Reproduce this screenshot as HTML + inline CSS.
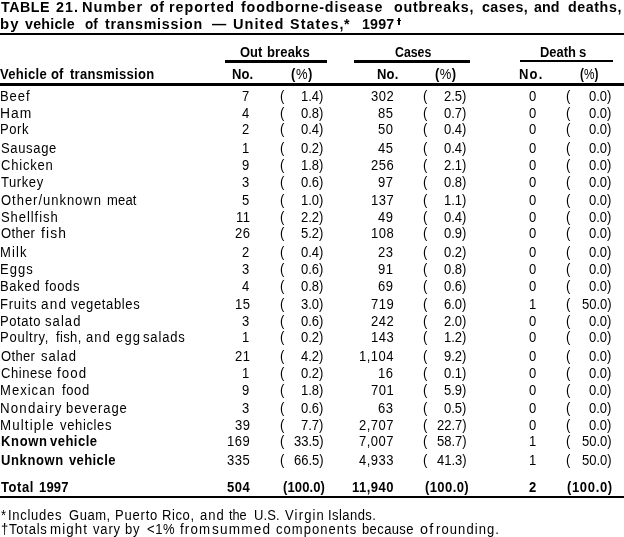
<!DOCTYPE html>
<html><head><meta charset="utf-8"><style>
html,body{margin:0;padding:0;background:#fff;}
body{width:624px;height:537px;position:relative;overflow:hidden;font-family:"Liberation Sans",sans-serif;}
.t{position:absolute;transform-origin:0 50%;white-space:pre;line-height:16px;color:#000;}
.r{position:absolute;background:#000;}
#w{position:absolute;left:0;top:0;width:624px;height:537px;will-change:transform;}
</style></head><body><div id="w">
<div class="t" style="left:1.30px;top:-0.87px;font-size:15.5px;letter-spacing:0.555px;transform:scaleX(0.9200);font-weight:bold;">TABLE</div>
<div class="t" style="left:56.30px;top:-0.87px;font-size:15.5px;letter-spacing:1.173px;transform:scaleX(0.9200);font-weight:bold;">21.</div>
<div class="t" style="left:82.36px;top:-0.87px;font-size:15.5px;letter-spacing:1.089px;transform:scaleX(0.9400);font-weight:bold;">Number</div>
<div class="t" style="left:149.70px;top:-0.87px;font-size:15.5px;letter-spacing:0.619px;transform:scaleX(0.9200);font-weight:bold;">of</div>
<div class="t" style="left:169.08px;top:-0.87px;font-size:15.5px;letter-spacing:1.120px;transform:scaleX(0.9200);font-weight:bold;">reported</div>
<div class="t" style="left:241.30px;top:-0.87px;font-size:15.5px;letter-spacing:0.936px;transform:scaleX(0.9200);font-weight:bold;">foodborne-disease</div>
<div class="t" style="left:394.20px;top:-0.87px;font-size:15.5px;letter-spacing:0.878px;transform:scaleX(0.9200);font-weight:bold;">outbreaks,</div>
<div class="t" style="left:481.80px;top:-0.87px;font-size:15.5px;letter-spacing:0.471px;transform:scaleX(0.9200);font-weight:bold;">cases,</div>
<div class="t" style="left:533.50px;top:-0.87px;font-size:15.5px;letter-spacing:0.043px;transform:scaleX(0.9200);font-weight:bold;">and</div>
<div class="t" style="left:567.70px;top:-0.87px;font-size:15.5px;letter-spacing:0.626px;transform:scaleX(0.9200);font-weight:bold;">deaths,</div>
<div class="t" style="left:-0.16px;top:16.13px;font-size:15.5px;letter-spacing:1.178px;transform:scaleX(0.9600);font-weight:bold;">by</div>
<div class="t" style="left:25.30px;top:16.13px;font-size:15.5px;letter-spacing:0.234px;transform:scaleX(0.9200);font-weight:bold;">vehicle</div>
<div class="t" style="left:85.00px;top:16.13px;font-size:15.5px;letter-spacing:0.000px;transform:scaleX(0.8728);font-weight:bold;">of</div>
<div class="t" style="left:105.30px;top:16.13px;font-size:15.5px;letter-spacing:0.828px;transform:scaleX(0.9200);font-weight:bold;">transmission</div>
<div class="t" style="left:211.70px;top:16.13px;font-size:15.5px;letter-spacing:0.000px;transform:scaleX(0.9200);font-weight:bold;">—</div>
<div class="t" style="left:233.00px;top:16.13px;font-size:15.5px;letter-spacing:1.088px;transform:scaleX(0.9400);font-weight:bold;">United</div>
<div class="t" style="left:290.00px;top:16.13px;font-size:15.5px;letter-spacing:1.235px;transform:scaleX(0.9200);font-weight:bold;">States,</div>
<div class="t" style="left:344.20px;top:16.13px;font-size:15.5px;letter-spacing:0.000px;transform:scaleX(0.9200);font-weight:bold;">*</div>
<div class="t" style="left:361.70px;top:16.13px;font-size:15.5px;letter-spacing:0.162px;transform:scaleX(0.9200);font-weight:bold;">1997</div>
<div class="r" style="left:398px;top:18px;width:2px;height:7px"></div>
<div class="r" style="left:397px;top:20px;width:4px;height:1px"></div>
<div class="t" style="left:0.00px;top:66.15px;font-size:14px;letter-spacing:0.345px;transform:scaleX(0.9300);font-weight:bold;">Vehicle</div>
<div class="t" style="left:51.30px;top:66.15px;font-size:14px;letter-spacing:0.104px;transform:scaleX(0.9300);font-weight:bold;">of</div>
<div class="t" style="left:69.70px;top:66.15px;font-size:14px;letter-spacing:0.301px;transform:scaleX(0.9300);font-weight:bold;">transmission</div>
<div class="t" style="left:239.80px;top:44.15px;font-size:14px;letter-spacing:0.000px;transform:scaleX(0.9206);font-weight:bold;">Out</div>
<div class="t" style="left:266.50px;top:44.15px;font-size:14px;letter-spacing:0.154px;transform:scaleX(0.9300);font-weight:bold;">breaks</div>
<div class="t" style="left:394.50px;top:44.15px;font-size:14px;letter-spacing:0.000px;transform:scaleX(0.8802);font-weight:bold;">Cases</div>
<div class="t" style="left:539.80px;top:44.15px;font-size:14px;letter-spacing:0.000px;transform:scaleX(0.9206);font-weight:bold;">Death</div>
<div class="t" style="left:578.50px;top:44.15px;font-size:14px;letter-spacing:0.000px;transform:scaleX(0.9300);font-weight:bold;">s</div>
<div class="t" style="left:232.00px;top:66.15px;font-size:14px;letter-spacing:0.083px;transform:scaleX(0.9300);font-weight:bold;">No.</div>
<div class="t" style="left:377.00px;top:66.15px;font-size:14px;letter-spacing:0.190px;transform:scaleX(0.9300);font-weight:bold;">No.</div>
<div class="t" style="left:518.75px;top:66.15px;font-size:14px;letter-spacing:1.239px;transform:scaleX(0.9300);font-weight:bold;">No.</div>
<div class="t" style="left:290.60px;top:66.15px;font-size:14px;letter-spacing:0.574px;transform:scaleX(0.9300);"><b>(</b>%<b>)</b></div>
<div class="t" style="left:435.00px;top:66.15px;font-size:14px;letter-spacing:0.466px;transform:scaleX(0.9300);"><b>(</b>%<b>)</b></div>
<div class="t" style="left:579.75px;top:66.15px;font-size:14px;letter-spacing:0.000px;transform:scaleX(0.8408);"><b>(</b>%<b>)</b></div>
<div class="r" style="left:0px;top:33px;width:624px;height:2px"></div>
<div class="r" style="left:0px;top:83px;width:624px;height:3px"></div>
<div class="r" style="left:0px;top:496px;width:624px;height:2px"></div>
<div class="r" style="left:225px;top:60px;width:102px;height:3px"></div>
<div class="r" style="left:354px;top:60px;width:116px;height:3px"></div>
<div class="r" style="left:520px;top:60px;width:93px;height:2px"></div>
<div class="t" style="left:-0.13px;top:88.15px;font-size:14px;letter-spacing:0.983px;transform:scaleX(0.9300);">Beef</div>
<div class="t" style="left:242.26px;top:88.15px;font-size:14px;letter-spacing:0.500px;transform:scaleX(0.9300);">7</div>
<div class="t" style="left:279.80px;top:88.15px;font-size:14px;letter-spacing:0.000px;transform:scaleX(0.9300);">(</div>
<div class="t" style="left:301.18px;top:88.15px;font-size:14px;letter-spacing:0.000px;transform:scaleX(0.9300);">1.4)</div>
<div class="t" style="left:370.65px;top:88.15px;font-size:14px;letter-spacing:0.500px;transform:scaleX(0.9300);">302</div>
<div class="t" style="left:423.00px;top:88.15px;font-size:14px;letter-spacing:0.000px;transform:scaleX(0.9300);">(</div>
<div class="t" style="left:444.18px;top:88.15px;font-size:14px;letter-spacing:0.000px;transform:scaleX(0.9300);">2.5)</div>
<div class="t" style="left:528.56px;top:88.15px;font-size:14px;letter-spacing:0.500px;transform:scaleX(0.9300);">0</div>
<div class="t" style="left:566.30px;top:88.15px;font-size:14px;letter-spacing:0.000px;transform:scaleX(0.9300);">(</div>
<div class="t" style="left:589.48px;top:88.15px;font-size:14px;letter-spacing:0.000px;transform:scaleX(0.9300);">0.0)</div>
<div class="t" style="left:-0.19px;top:105.15px;font-size:14px;letter-spacing:1.052px;transform:scaleX(0.9900);">Ham</div>
<div class="t" style="left:242.26px;top:105.15px;font-size:14px;letter-spacing:0.500px;transform:scaleX(0.9300);">4</div>
<div class="t" style="left:279.80px;top:105.15px;font-size:14px;letter-spacing:0.000px;transform:scaleX(0.9300);">(</div>
<div class="t" style="left:301.18px;top:105.15px;font-size:14px;letter-spacing:0.000px;transform:scaleX(0.9300);">0.8)</div>
<div class="t" style="left:378.35px;top:105.15px;font-size:14px;letter-spacing:0.500px;transform:scaleX(0.9300);">85</div>
<div class="t" style="left:423.00px;top:105.15px;font-size:14px;letter-spacing:0.000px;transform:scaleX(0.9300);">(</div>
<div class="t" style="left:444.18px;top:105.15px;font-size:14px;letter-spacing:0.000px;transform:scaleX(0.9300);">0.7)</div>
<div class="t" style="left:528.56px;top:105.15px;font-size:14px;letter-spacing:0.500px;transform:scaleX(0.9300);">0</div>
<div class="t" style="left:566.30px;top:105.15px;font-size:14px;letter-spacing:0.000px;transform:scaleX(0.9300);">(</div>
<div class="t" style="left:589.48px;top:105.15px;font-size:14px;letter-spacing:0.000px;transform:scaleX(0.9300);">0.0)</div>
<div class="t" style="left:-0.13px;top:121.15px;font-size:14px;letter-spacing:0.620px;transform:scaleX(0.9300);">Pork</div>
<div class="t" style="left:242.26px;top:121.15px;font-size:14px;letter-spacing:0.500px;transform:scaleX(0.9300);">2</div>
<div class="t" style="left:279.80px;top:121.15px;font-size:14px;letter-spacing:0.000px;transform:scaleX(0.9300);">(</div>
<div class="t" style="left:301.18px;top:121.15px;font-size:14px;letter-spacing:0.000px;transform:scaleX(0.9300);">0.4)</div>
<div class="t" style="left:378.35px;top:121.15px;font-size:14px;letter-spacing:0.500px;transform:scaleX(0.9300);">50</div>
<div class="t" style="left:423.00px;top:121.15px;font-size:14px;letter-spacing:0.000px;transform:scaleX(0.9300);">(</div>
<div class="t" style="left:444.18px;top:121.15px;font-size:14px;letter-spacing:0.000px;transform:scaleX(0.9300);">0.4)</div>
<div class="t" style="left:528.56px;top:121.15px;font-size:14px;letter-spacing:0.500px;transform:scaleX(0.9300);">0</div>
<div class="t" style="left:566.30px;top:121.15px;font-size:14px;letter-spacing:0.000px;transform:scaleX(0.9300);">(</div>
<div class="t" style="left:589.48px;top:121.15px;font-size:14px;letter-spacing:0.000px;transform:scaleX(0.9300);">0.0)</div>
<div class="t" style="left:0.80px;top:140.15px;font-size:14px;letter-spacing:0.699px;transform:scaleX(0.9300);">Sausage</div>
<div class="t" style="left:242.26px;top:140.15px;font-size:14px;letter-spacing:0.500px;transform:scaleX(0.9300);">1</div>
<div class="t" style="left:279.80px;top:140.15px;font-size:14px;letter-spacing:0.000px;transform:scaleX(0.9300);">(</div>
<div class="t" style="left:301.18px;top:140.15px;font-size:14px;letter-spacing:0.000px;transform:scaleX(0.9300);">0.2)</div>
<div class="t" style="left:378.35px;top:140.15px;font-size:14px;letter-spacing:0.500px;transform:scaleX(0.9300);">45</div>
<div class="t" style="left:423.00px;top:140.15px;font-size:14px;letter-spacing:0.000px;transform:scaleX(0.9300);">(</div>
<div class="t" style="left:444.18px;top:140.15px;font-size:14px;letter-spacing:0.000px;transform:scaleX(0.9300);">0.4)</div>
<div class="t" style="left:528.56px;top:140.15px;font-size:14px;letter-spacing:0.500px;transform:scaleX(0.9300);">0</div>
<div class="t" style="left:566.30px;top:140.15px;font-size:14px;letter-spacing:0.000px;transform:scaleX(0.9300);">(</div>
<div class="t" style="left:589.48px;top:140.15px;font-size:14px;letter-spacing:0.000px;transform:scaleX(0.9300);">0.0)</div>
<div class="t" style="left:0.80px;top:157.15px;font-size:14px;letter-spacing:0.841px;transform:scaleX(0.9300);">Chicken</div>
<div class="t" style="left:242.26px;top:157.15px;font-size:14px;letter-spacing:0.500px;transform:scaleX(0.9300);">9</div>
<div class="t" style="left:279.80px;top:157.15px;font-size:14px;letter-spacing:0.000px;transform:scaleX(0.9300);">(</div>
<div class="t" style="left:301.18px;top:157.15px;font-size:14px;letter-spacing:0.000px;transform:scaleX(0.9300);">1.8)</div>
<div class="t" style="left:370.65px;top:157.15px;font-size:14px;letter-spacing:0.500px;transform:scaleX(0.9300);">256</div>
<div class="t" style="left:423.00px;top:157.15px;font-size:14px;letter-spacing:0.000px;transform:scaleX(0.9300);">(</div>
<div class="t" style="left:444.18px;top:157.15px;font-size:14px;letter-spacing:0.000px;transform:scaleX(0.9300);">2.1)</div>
<div class="t" style="left:528.56px;top:157.15px;font-size:14px;letter-spacing:0.500px;transform:scaleX(0.9300);">0</div>
<div class="t" style="left:566.30px;top:157.15px;font-size:14px;letter-spacing:0.000px;transform:scaleX(0.9300);">(</div>
<div class="t" style="left:589.48px;top:157.15px;font-size:14px;letter-spacing:0.000px;transform:scaleX(0.9300);">0.0)</div>
<div class="t" style="left:0.80px;top:174.15px;font-size:14px;letter-spacing:0.622px;transform:scaleX(0.9300);">Turkey</div>
<div class="t" style="left:242.26px;top:174.15px;font-size:14px;letter-spacing:0.500px;transform:scaleX(0.9300);">3</div>
<div class="t" style="left:279.80px;top:174.15px;font-size:14px;letter-spacing:0.000px;transform:scaleX(0.9300);">(</div>
<div class="t" style="left:301.18px;top:174.15px;font-size:14px;letter-spacing:0.000px;transform:scaleX(0.9300);">0.6)</div>
<div class="t" style="left:378.35px;top:174.15px;font-size:14px;letter-spacing:0.500px;transform:scaleX(0.9300);">97</div>
<div class="t" style="left:423.00px;top:174.15px;font-size:14px;letter-spacing:0.000px;transform:scaleX(0.9300);">(</div>
<div class="t" style="left:444.18px;top:174.15px;font-size:14px;letter-spacing:0.000px;transform:scaleX(0.9300);">0.8)</div>
<div class="t" style="left:528.56px;top:174.15px;font-size:14px;letter-spacing:0.500px;transform:scaleX(0.9300);">0</div>
<div class="t" style="left:566.30px;top:174.15px;font-size:14px;letter-spacing:0.000px;transform:scaleX(0.9300);">(</div>
<div class="t" style="left:589.48px;top:174.15px;font-size:14px;letter-spacing:0.000px;transform:scaleX(0.9300);">0.0)</div>
<div class="t" style="left:0.80px;top:192.15px;font-size:14px;letter-spacing:1.042px;transform:scaleX(0.9300);">Other/unknown</div>
<div class="t" style="left:107.00px;top:192.15px;font-size:14px;letter-spacing:0.162px;transform:scaleX(0.9300);">meat</div>
<div class="t" style="left:242.26px;top:192.15px;font-size:14px;letter-spacing:0.500px;transform:scaleX(0.9300);">5</div>
<div class="t" style="left:279.80px;top:192.15px;font-size:14px;letter-spacing:0.000px;transform:scaleX(0.9300);">(</div>
<div class="t" style="left:301.18px;top:192.15px;font-size:14px;letter-spacing:0.000px;transform:scaleX(0.9300);">1.0)</div>
<div class="t" style="left:370.65px;top:192.15px;font-size:14px;letter-spacing:0.500px;transform:scaleX(0.9300);">137</div>
<div class="t" style="left:423.00px;top:192.15px;font-size:14px;letter-spacing:0.000px;transform:scaleX(0.9300);">(</div>
<div class="t" style="left:444.18px;top:192.15px;font-size:14px;letter-spacing:0.000px;transform:scaleX(0.9300);">1.1)</div>
<div class="t" style="left:528.56px;top:192.15px;font-size:14px;letter-spacing:0.500px;transform:scaleX(0.9300);">0</div>
<div class="t" style="left:566.30px;top:192.15px;font-size:14px;letter-spacing:0.000px;transform:scaleX(0.9300);">(</div>
<div class="t" style="left:589.48px;top:192.15px;font-size:14px;letter-spacing:0.000px;transform:scaleX(0.9300);">0.0)</div>
<div class="t" style="left:0.80px;top:209.15px;font-size:14px;letter-spacing:0.997px;transform:scaleX(0.9300);">Shellfish</div>
<div class="t" style="left:235.52px;top:209.15px;font-size:14px;letter-spacing:0.500px;transform:scaleX(0.9300);">11</div>
<div class="t" style="left:279.80px;top:209.15px;font-size:14px;letter-spacing:0.000px;transform:scaleX(0.9300);">(</div>
<div class="t" style="left:301.18px;top:209.15px;font-size:14px;letter-spacing:0.000px;transform:scaleX(0.9300);">2.2)</div>
<div class="t" style="left:378.35px;top:209.15px;font-size:14px;letter-spacing:0.500px;transform:scaleX(0.9300);">49</div>
<div class="t" style="left:423.00px;top:209.15px;font-size:14px;letter-spacing:0.000px;transform:scaleX(0.9300);">(</div>
<div class="t" style="left:444.18px;top:209.15px;font-size:14px;letter-spacing:0.000px;transform:scaleX(0.9300);">0.4)</div>
<div class="t" style="left:528.56px;top:209.15px;font-size:14px;letter-spacing:0.500px;transform:scaleX(0.9300);">0</div>
<div class="t" style="left:566.30px;top:209.15px;font-size:14px;letter-spacing:0.000px;transform:scaleX(0.9300);">(</div>
<div class="t" style="left:589.48px;top:209.15px;font-size:14px;letter-spacing:0.000px;transform:scaleX(0.9300);">0.0)</div>
<div class="t" style="left:0.80px;top:225.15px;font-size:14px;letter-spacing:0.356px;transform:scaleX(0.9300);">Other</div>
<div class="t" style="left:41.30px;top:225.15px;font-size:14px;letter-spacing:1.182px;transform:scaleX(0.9900);">fish</div>
<div class="t" style="left:234.55px;top:225.15px;font-size:14px;letter-spacing:0.500px;transform:scaleX(0.9300);">26</div>
<div class="t" style="left:279.80px;top:225.15px;font-size:14px;letter-spacing:0.000px;transform:scaleX(0.9300);">(</div>
<div class="t" style="left:301.18px;top:225.15px;font-size:14px;letter-spacing:0.000px;transform:scaleX(0.9300);">5.2)</div>
<div class="t" style="left:370.65px;top:225.15px;font-size:14px;letter-spacing:0.500px;transform:scaleX(0.9300);">108</div>
<div class="t" style="left:423.00px;top:225.15px;font-size:14px;letter-spacing:0.000px;transform:scaleX(0.9300);">(</div>
<div class="t" style="left:444.18px;top:225.15px;font-size:14px;letter-spacing:0.000px;transform:scaleX(0.9300);">0.9)</div>
<div class="t" style="left:528.56px;top:225.15px;font-size:14px;letter-spacing:0.500px;transform:scaleX(0.9300);">0</div>
<div class="t" style="left:566.30px;top:225.15px;font-size:14px;letter-spacing:0.000px;transform:scaleX(0.9300);">(</div>
<div class="t" style="left:589.48px;top:225.15px;font-size:14px;letter-spacing:0.000px;transform:scaleX(0.9300);">0.0)</div>
<div class="t" style="left:-0.13px;top:244.15px;font-size:14px;letter-spacing:1.204px;transform:scaleX(0.9300);">Milk</div>
<div class="t" style="left:242.26px;top:244.15px;font-size:14px;letter-spacing:0.500px;transform:scaleX(0.9300);">2</div>
<div class="t" style="left:279.80px;top:244.15px;font-size:14px;letter-spacing:0.000px;transform:scaleX(0.9300);">(</div>
<div class="t" style="left:301.18px;top:244.15px;font-size:14px;letter-spacing:0.000px;transform:scaleX(0.9300);">0.4)</div>
<div class="t" style="left:378.35px;top:244.15px;font-size:14px;letter-spacing:0.500px;transform:scaleX(0.9300);">23</div>
<div class="t" style="left:423.00px;top:244.15px;font-size:14px;letter-spacing:0.000px;transform:scaleX(0.9300);">(</div>
<div class="t" style="left:444.18px;top:244.15px;font-size:14px;letter-spacing:0.000px;transform:scaleX(0.9300);">0.2)</div>
<div class="t" style="left:528.56px;top:244.15px;font-size:14px;letter-spacing:0.500px;transform:scaleX(0.9300);">0</div>
<div class="t" style="left:566.30px;top:244.15px;font-size:14px;letter-spacing:0.000px;transform:scaleX(0.9300);">(</div>
<div class="t" style="left:589.48px;top:244.15px;font-size:14px;letter-spacing:0.000px;transform:scaleX(0.9300);">0.0)</div>
<div class="t" style="left:-0.13px;top:261.15px;font-size:14px;letter-spacing:1.130px;transform:scaleX(0.9300);">Eggs</div>
<div class="t" style="left:242.26px;top:261.15px;font-size:14px;letter-spacing:0.500px;transform:scaleX(0.9300);">3</div>
<div class="t" style="left:279.80px;top:261.15px;font-size:14px;letter-spacing:0.000px;transform:scaleX(0.9300);">(</div>
<div class="t" style="left:301.18px;top:261.15px;font-size:14px;letter-spacing:0.000px;transform:scaleX(0.9300);">0.6)</div>
<div class="t" style="left:378.35px;top:261.15px;font-size:14px;letter-spacing:0.500px;transform:scaleX(0.9300);">91</div>
<div class="t" style="left:423.00px;top:261.15px;font-size:14px;letter-spacing:0.000px;transform:scaleX(0.9300);">(</div>
<div class="t" style="left:444.18px;top:261.15px;font-size:14px;letter-spacing:0.000px;transform:scaleX(0.9300);">0.8)</div>
<div class="t" style="left:528.56px;top:261.15px;font-size:14px;letter-spacing:0.500px;transform:scaleX(0.9300);">0</div>
<div class="t" style="left:566.30px;top:261.15px;font-size:14px;letter-spacing:0.000px;transform:scaleX(0.9300);">(</div>
<div class="t" style="left:589.48px;top:261.15px;font-size:14px;letter-spacing:0.000px;transform:scaleX(0.9300);">0.0)</div>
<div class="t" style="left:-0.13px;top:278.15px;font-size:14px;letter-spacing:0.738px;transform:scaleX(0.9300);">Baked</div>
<div class="t" style="left:45.00px;top:278.15px;font-size:14px;letter-spacing:0.685px;transform:scaleX(0.9300);">foods</div>
<div class="t" style="left:242.26px;top:278.15px;font-size:14px;letter-spacing:0.500px;transform:scaleX(0.9300);">4</div>
<div class="t" style="left:279.80px;top:278.15px;font-size:14px;letter-spacing:0.000px;transform:scaleX(0.9300);">(</div>
<div class="t" style="left:301.18px;top:278.15px;font-size:14px;letter-spacing:0.000px;transform:scaleX(0.9300);">0.8)</div>
<div class="t" style="left:378.35px;top:278.15px;font-size:14px;letter-spacing:0.500px;transform:scaleX(0.9300);">69</div>
<div class="t" style="left:423.00px;top:278.15px;font-size:14px;letter-spacing:0.000px;transform:scaleX(0.9300);">(</div>
<div class="t" style="left:444.18px;top:278.15px;font-size:14px;letter-spacing:0.000px;transform:scaleX(0.9300);">0.6)</div>
<div class="t" style="left:528.56px;top:278.15px;font-size:14px;letter-spacing:0.500px;transform:scaleX(0.9300);">0</div>
<div class="t" style="left:566.30px;top:278.15px;font-size:14px;letter-spacing:0.000px;transform:scaleX(0.9300);">(</div>
<div class="t" style="left:589.48px;top:278.15px;font-size:14px;letter-spacing:0.000px;transform:scaleX(0.9300);">0.0)</div>
<div class="t" style="left:-0.13px;top:296.15px;font-size:14px;letter-spacing:0.834px;transform:scaleX(0.9300);">Fruits</div>
<div class="t" style="left:41.30px;top:296.15px;font-size:14px;letter-spacing:1.188px;transform:scaleX(0.9700);">and</div>
<div class="t" style="left:71.30px;top:296.15px;font-size:14px;letter-spacing:0.684px;transform:scaleX(0.9300);">vegetables</div>
<div class="t" style="left:234.55px;top:296.15px;font-size:14px;letter-spacing:0.500px;transform:scaleX(0.9300);">15</div>
<div class="t" style="left:279.80px;top:296.15px;font-size:14px;letter-spacing:0.000px;transform:scaleX(0.9300);">(</div>
<div class="t" style="left:301.18px;top:296.15px;font-size:14px;letter-spacing:0.000px;transform:scaleX(0.9300);">3.0)</div>
<div class="t" style="left:370.65px;top:296.15px;font-size:14px;letter-spacing:0.500px;transform:scaleX(0.9300);">719</div>
<div class="t" style="left:423.00px;top:296.15px;font-size:14px;letter-spacing:0.000px;transform:scaleX(0.9300);">(</div>
<div class="t" style="left:444.18px;top:296.15px;font-size:14px;letter-spacing:0.000px;transform:scaleX(0.9300);">6.0)</div>
<div class="t" style="left:528.56px;top:296.15px;font-size:14px;letter-spacing:0.500px;transform:scaleX(0.9300);">1</div>
<div class="t" style="left:566.30px;top:296.15px;font-size:14px;letter-spacing:0.000px;transform:scaleX(0.9300);">(</div>
<div class="t" style="left:582.24px;top:296.15px;font-size:14px;letter-spacing:0.000px;transform:scaleX(0.9300);">50.0)</div>
<div class="t" style="left:-0.13px;top:313.15px;font-size:14px;letter-spacing:0.600px;transform:scaleX(0.9300);">Potato</div>
<div class="t" style="left:45.00px;top:313.15px;font-size:14px;letter-spacing:1.157px;transform:scaleX(0.9300);">salad</div>
<div class="t" style="left:242.26px;top:313.15px;font-size:14px;letter-spacing:0.500px;transform:scaleX(0.9300);">3</div>
<div class="t" style="left:279.80px;top:313.15px;font-size:14px;letter-spacing:0.000px;transform:scaleX(0.9300);">(</div>
<div class="t" style="left:301.18px;top:313.15px;font-size:14px;letter-spacing:0.000px;transform:scaleX(0.9300);">0.6)</div>
<div class="t" style="left:370.65px;top:313.15px;font-size:14px;letter-spacing:0.500px;transform:scaleX(0.9300);">242</div>
<div class="t" style="left:423.00px;top:313.15px;font-size:14px;letter-spacing:0.000px;transform:scaleX(0.9300);">(</div>
<div class="t" style="left:444.18px;top:313.15px;font-size:14px;letter-spacing:0.000px;transform:scaleX(0.9300);">2.0)</div>
<div class="t" style="left:528.56px;top:313.15px;font-size:14px;letter-spacing:0.500px;transform:scaleX(0.9300);">0</div>
<div class="t" style="left:566.30px;top:313.15px;font-size:14px;letter-spacing:0.000px;transform:scaleX(0.9300);">(</div>
<div class="t" style="left:589.48px;top:313.15px;font-size:14px;letter-spacing:0.000px;transform:scaleX(0.9300);">0.0)</div>
<div class="t" style="left:-0.13px;top:329.15px;font-size:14px;letter-spacing:0.812px;transform:scaleX(0.9300);">Poultry,</div>
<div class="t" style="left:55.50px;top:329.15px;font-size:14px;letter-spacing:0.389px;transform:scaleX(0.9300);">fish,</div>
<div class="t" style="left:86.30px;top:329.15px;font-size:14px;letter-spacing:1.187px;transform:scaleX(0.9300);">and</div>
<div class="t" style="left:115.50px;top:329.15px;font-size:14px;letter-spacing:1.241px;transform:scaleX(0.9300);">egg</div>
<div class="t" style="left:142.50px;top:329.15px;font-size:14px;letter-spacing:0.895px;transform:scaleX(0.9300);">salads</div>
<div class="t" style="left:242.26px;top:329.15px;font-size:14px;letter-spacing:0.500px;transform:scaleX(0.9300);">1</div>
<div class="t" style="left:279.80px;top:329.15px;font-size:14px;letter-spacing:0.000px;transform:scaleX(0.9300);">(</div>
<div class="t" style="left:301.18px;top:329.15px;font-size:14px;letter-spacing:0.000px;transform:scaleX(0.9300);">0.2)</div>
<div class="t" style="left:370.65px;top:329.15px;font-size:14px;letter-spacing:0.500px;transform:scaleX(0.9300);">143</div>
<div class="t" style="left:423.00px;top:329.15px;font-size:14px;letter-spacing:0.000px;transform:scaleX(0.9300);">(</div>
<div class="t" style="left:444.18px;top:329.15px;font-size:14px;letter-spacing:0.000px;transform:scaleX(0.9300);">1.2)</div>
<div class="t" style="left:528.56px;top:329.15px;font-size:14px;letter-spacing:0.500px;transform:scaleX(0.9300);">0</div>
<div class="t" style="left:566.30px;top:329.15px;font-size:14px;letter-spacing:0.000px;transform:scaleX(0.9300);">(</div>
<div class="t" style="left:589.48px;top:329.15px;font-size:14px;letter-spacing:0.000px;transform:scaleX(0.9300);">0.0)</div>
<div class="t" style="left:0.80px;top:348.15px;font-size:14px;letter-spacing:0.356px;transform:scaleX(0.9300);">Other</div>
<div class="t" style="left:41.30px;top:348.15px;font-size:14px;letter-spacing:1.023px;transform:scaleX(0.9300);">salad</div>
<div class="t" style="left:234.55px;top:348.15px;font-size:14px;letter-spacing:0.500px;transform:scaleX(0.9300);">21</div>
<div class="t" style="left:279.80px;top:348.15px;font-size:14px;letter-spacing:0.000px;transform:scaleX(0.9300);">(</div>
<div class="t" style="left:301.18px;top:348.15px;font-size:14px;letter-spacing:0.000px;transform:scaleX(0.9300);">4.2)</div>
<div class="t" style="left:358.86px;top:348.15px;font-size:14px;letter-spacing:0.500px;transform:scaleX(0.9300);">1,104</div>
<div class="t" style="left:423.00px;top:348.15px;font-size:14px;letter-spacing:0.000px;transform:scaleX(0.9300);">(</div>
<div class="t" style="left:444.18px;top:348.15px;font-size:14px;letter-spacing:0.000px;transform:scaleX(0.9300);">9.2)</div>
<div class="t" style="left:528.56px;top:348.15px;font-size:14px;letter-spacing:0.500px;transform:scaleX(0.9300);">0</div>
<div class="t" style="left:566.30px;top:348.15px;font-size:14px;letter-spacing:0.000px;transform:scaleX(0.9300);">(</div>
<div class="t" style="left:589.48px;top:348.15px;font-size:14px;letter-spacing:0.000px;transform:scaleX(0.9300);">0.0)</div>
<div class="t" style="left:0.80px;top:365.15px;font-size:14px;letter-spacing:0.579px;transform:scaleX(0.9300);">Chinese</div>
<div class="t" style="left:57.00px;top:365.15px;font-size:14px;letter-spacing:1.109px;transform:scaleX(0.9500);">food</div>
<div class="t" style="left:242.26px;top:365.15px;font-size:14px;letter-spacing:0.500px;transform:scaleX(0.9300);">1</div>
<div class="t" style="left:279.80px;top:365.15px;font-size:14px;letter-spacing:0.000px;transform:scaleX(0.9300);">(</div>
<div class="t" style="left:301.18px;top:365.15px;font-size:14px;letter-spacing:0.000px;transform:scaleX(0.9300);">0.2)</div>
<div class="t" style="left:378.35px;top:365.15px;font-size:14px;letter-spacing:0.500px;transform:scaleX(0.9300);">16</div>
<div class="t" style="left:423.00px;top:365.15px;font-size:14px;letter-spacing:0.000px;transform:scaleX(0.9300);">(</div>
<div class="t" style="left:444.18px;top:365.15px;font-size:14px;letter-spacing:0.000px;transform:scaleX(0.9300);">0.1)</div>
<div class="t" style="left:528.56px;top:365.15px;font-size:14px;letter-spacing:0.500px;transform:scaleX(0.9300);">0</div>
<div class="t" style="left:566.30px;top:365.15px;font-size:14px;letter-spacing:0.000px;transform:scaleX(0.9300);">(</div>
<div class="t" style="left:589.48px;top:365.15px;font-size:14px;letter-spacing:0.000px;transform:scaleX(0.9300);">0.0)</div>
<div class="t" style="left:-0.13px;top:382.15px;font-size:14px;letter-spacing:1.107px;transform:scaleX(0.9300);">Mexican</div>
<div class="t" style="left:62.00px;top:382.15px;font-size:14px;letter-spacing:0.678px;transform:scaleX(0.9300);">food</div>
<div class="t" style="left:242.26px;top:382.15px;font-size:14px;letter-spacing:0.500px;transform:scaleX(0.9300);">9</div>
<div class="t" style="left:279.80px;top:382.15px;font-size:14px;letter-spacing:0.000px;transform:scaleX(0.9300);">(</div>
<div class="t" style="left:301.18px;top:382.15px;font-size:14px;letter-spacing:0.000px;transform:scaleX(0.9300);">1.8)</div>
<div class="t" style="left:370.65px;top:382.15px;font-size:14px;letter-spacing:0.500px;transform:scaleX(0.9300);">701</div>
<div class="t" style="left:423.00px;top:382.15px;font-size:14px;letter-spacing:0.000px;transform:scaleX(0.9300);">(</div>
<div class="t" style="left:444.18px;top:382.15px;font-size:14px;letter-spacing:0.000px;transform:scaleX(0.9300);">5.9)</div>
<div class="t" style="left:528.56px;top:382.15px;font-size:14px;letter-spacing:0.500px;transform:scaleX(0.9300);">0</div>
<div class="t" style="left:566.30px;top:382.15px;font-size:14px;letter-spacing:0.000px;transform:scaleX(0.9300);">(</div>
<div class="t" style="left:589.48px;top:382.15px;font-size:14px;letter-spacing:0.000px;transform:scaleX(0.9300);">0.0)</div>
<div class="t" style="left:-0.15px;top:400.15px;font-size:14px;letter-spacing:1.237px;transform:scaleX(0.9500);">Nondairy</div>
<div class="t" style="left:65.50px;top:400.15px;font-size:14px;letter-spacing:1.000px;transform:scaleX(0.9300);">beverage</div>
<div class="t" style="left:242.26px;top:400.15px;font-size:14px;letter-spacing:0.500px;transform:scaleX(0.9300);">3</div>
<div class="t" style="left:279.80px;top:400.15px;font-size:14px;letter-spacing:0.000px;transform:scaleX(0.9300);">(</div>
<div class="t" style="left:301.18px;top:400.15px;font-size:14px;letter-spacing:0.000px;transform:scaleX(0.9300);">0.6)</div>
<div class="t" style="left:378.35px;top:400.15px;font-size:14px;letter-spacing:0.500px;transform:scaleX(0.9300);">63</div>
<div class="t" style="left:423.00px;top:400.15px;font-size:14px;letter-spacing:0.000px;transform:scaleX(0.9300);">(</div>
<div class="t" style="left:444.18px;top:400.15px;font-size:14px;letter-spacing:0.000px;transform:scaleX(0.9300);">0.5)</div>
<div class="t" style="left:528.56px;top:400.15px;font-size:14px;letter-spacing:0.500px;transform:scaleX(0.9300);">0</div>
<div class="t" style="left:566.30px;top:400.15px;font-size:14px;letter-spacing:0.000px;transform:scaleX(0.9300);">(</div>
<div class="t" style="left:589.48px;top:400.15px;font-size:14px;letter-spacing:0.000px;transform:scaleX(0.9300);">0.0)</div>
<div class="t" style="left:-0.15px;top:417.15px;font-size:14px;letter-spacing:1.191px;transform:scaleX(0.9500);">Multiple</div>
<div class="t" style="left:60.00px;top:417.15px;font-size:14px;letter-spacing:0.685px;transform:scaleX(0.9300);">vehicles</div>
<div class="t" style="left:234.55px;top:417.15px;font-size:14px;letter-spacing:0.500px;transform:scaleX(0.9300);">39</div>
<div class="t" style="left:279.80px;top:417.15px;font-size:14px;letter-spacing:0.000px;transform:scaleX(0.9300);">(</div>
<div class="t" style="left:301.18px;top:417.15px;font-size:14px;letter-spacing:0.000px;transform:scaleX(0.9300);">7.7)</div>
<div class="t" style="left:358.86px;top:417.15px;font-size:14px;letter-spacing:0.500px;transform:scaleX(0.9300);">2,707</div>
<div class="t" style="left:423.00px;top:417.15px;font-size:14px;letter-spacing:0.000px;transform:scaleX(0.9300);">(</div>
<div class="t" style="left:436.94px;top:417.15px;font-size:14px;letter-spacing:0.000px;transform:scaleX(0.9300);">22.7)</div>
<div class="t" style="left:528.56px;top:417.15px;font-size:14px;letter-spacing:0.500px;transform:scaleX(0.9300);">0</div>
<div class="t" style="left:566.30px;top:417.15px;font-size:14px;letter-spacing:0.000px;transform:scaleX(0.9300);">(</div>
<div class="t" style="left:589.48px;top:417.15px;font-size:14px;letter-spacing:0.000px;transform:scaleX(0.9300);">0.0)</div>
<div class="t" style="left:0.80px;top:433.15px;font-size:14px;letter-spacing:0.705px;transform:scaleX(0.9300);font-weight:bold;">Known</div>
<div class="t" style="left:50.00px;top:433.15px;font-size:14px;letter-spacing:0.511px;transform:scaleX(0.9300);font-weight:bold;">vehicle</div>
<div class="t" style="left:226.85px;top:433.15px;font-size:14px;letter-spacing:0.500px;transform:scaleX(0.9300);">169</div>
<div class="t" style="left:279.80px;top:433.15px;font-size:14px;letter-spacing:0.000px;transform:scaleX(0.9300);">(</div>
<div class="t" style="left:293.94px;top:433.15px;font-size:14px;letter-spacing:0.000px;transform:scaleX(0.9300);">33.5)</div>
<div class="t" style="left:358.86px;top:433.15px;font-size:14px;letter-spacing:0.500px;transform:scaleX(0.9300);">7,007</div>
<div class="t" style="left:423.00px;top:433.15px;font-size:14px;letter-spacing:0.000px;transform:scaleX(0.9300);">(</div>
<div class="t" style="left:436.94px;top:433.15px;font-size:14px;letter-spacing:0.000px;transform:scaleX(0.9300);">58.7)</div>
<div class="t" style="left:528.56px;top:433.15px;font-size:14px;letter-spacing:0.500px;transform:scaleX(0.9300);">1</div>
<div class="t" style="left:566.30px;top:433.15px;font-size:14px;letter-spacing:0.000px;transform:scaleX(0.9300);">(</div>
<div class="t" style="left:582.24px;top:433.15px;font-size:14px;letter-spacing:0.000px;transform:scaleX(0.9300);">50.0)</div>
<div class="t" style="left:0.80px;top:452.15px;font-size:14px;letter-spacing:0.650px;transform:scaleX(0.9300);font-weight:bold;">Unknown</div>
<div class="t" style="left:68.80px;top:452.15px;font-size:14px;letter-spacing:0.403px;transform:scaleX(0.9300);font-weight:bold;">vehicle</div>
<div class="t" style="left:226.85px;top:452.15px;font-size:14px;letter-spacing:0.500px;transform:scaleX(0.9300);">335</div>
<div class="t" style="left:279.80px;top:452.15px;font-size:14px;letter-spacing:0.000px;transform:scaleX(0.9300);">(</div>
<div class="t" style="left:293.94px;top:452.15px;font-size:14px;letter-spacing:0.000px;transform:scaleX(0.9300);">66.5)</div>
<div class="t" style="left:358.86px;top:452.15px;font-size:14px;letter-spacing:0.500px;transform:scaleX(0.9300);">4,933</div>
<div class="t" style="left:423.00px;top:452.15px;font-size:14px;letter-spacing:0.000px;transform:scaleX(0.9300);">(</div>
<div class="t" style="left:436.94px;top:452.15px;font-size:14px;letter-spacing:0.000px;transform:scaleX(0.9300);">41.3)</div>
<div class="t" style="left:528.56px;top:452.15px;font-size:14px;letter-spacing:0.500px;transform:scaleX(0.9300);">1</div>
<div class="t" style="left:566.30px;top:452.15px;font-size:14px;letter-spacing:0.000px;transform:scaleX(0.9300);">(</div>
<div class="t" style="left:582.24px;top:452.15px;font-size:14px;letter-spacing:0.000px;transform:scaleX(0.9300);">50.0)</div>
<div class="t" style="left:0.80px;top:479.15px;font-size:14px;letter-spacing:0.590px;transform:scaleX(0.9300);font-weight:bold;">Total</div>
<div class="t" style="left:38.70px;top:479.15px;font-size:14px;letter-spacing:0.157px;transform:scaleX(0.9300);font-weight:bold;">1997</div>
<div class="t" style="left:226.85px;top:479.15px;font-size:14px;letter-spacing:0.500px;transform:scaleX(0.9300);font-weight:bold;">504</div>
<div class="t" style="left:283.00px;top:479.15px;font-size:14px;letter-spacing:0.119px;transform:scaleX(0.9300);font-weight:bold;">(100.0)</div>
<div class="t" style="left:351.87px;top:479.15px;font-size:14px;letter-spacing:0.500px;transform:scaleX(0.9300);font-weight:bold;">11,940</div>
<div class="t" style="left:425.00px;top:479.15px;font-size:14px;letter-spacing:0.423px;transform:scaleX(0.9300);font-weight:bold;">(100.0)</div>
<div class="t" style="left:528.56px;top:479.15px;font-size:14px;letter-spacing:0.500px;transform:scaleX(0.9300);font-weight:bold;">2</div>
<div class="t" style="left:567.30px;top:479.15px;font-size:14px;letter-spacing:0.692px;transform:scaleX(0.9300);font-weight:bold;">(100.0)</div>
<div class="t" style="left:0.50px;top:507.15px;font-size:14px;letter-spacing:0.000px;transform:scaleX(0.9300);">*</div>
<div class="t" style="left:8.07px;top:507.15px;font-size:14px;letter-spacing:0.758px;transform:scaleX(0.9300);">Includes</div>
<div class="t" style="left:68.70px;top:507.15px;font-size:14px;letter-spacing:0.552px;transform:scaleX(0.9300);">Guam,</div>
<div class="t" style="left:114.97px;top:507.15px;font-size:14px;letter-spacing:0.854px;transform:scaleX(0.9300);">Puerto</div>
<div class="t" style="left:162.07px;top:507.15px;font-size:14px;letter-spacing:0.643px;transform:scaleX(0.9300);">Rico,</div>
<div class="t" style="left:199.50px;top:507.15px;font-size:14px;letter-spacing:1.133px;transform:scaleX(0.9300);">and</div>
<div class="t" style="left:228.50px;top:507.15px;font-size:14px;letter-spacing:0.000px;transform:scaleX(0.9097);">the</div>
<div class="t" style="left:253.67px;top:507.15px;font-size:14px;letter-spacing:0.120px;transform:scaleX(0.9300);">U.S.</div>
<div class="t" style="left:284.50px;top:507.15px;font-size:14px;letter-spacing:1.243px;transform:scaleX(0.9300);">Virgin</div>
<div class="t" style="left:328.07px;top:507.15px;font-size:14px;letter-spacing:0.459px;transform:scaleX(0.9300);">Islands.</div>
<div class="t" style="left:0.80px;top:521.15px;font-size:14px;letter-spacing:0.000px;transform:scaleX(0.9300);">†</div>
<div class="t" style="left:8.70px;top:521.15px;font-size:14px;letter-spacing:0.815px;transform:scaleX(0.9300);">Totals</div>
<div class="t" style="left:50.00px;top:521.15px;font-size:14px;letter-spacing:1.151px;transform:scaleX(0.9500);">might</div>
<div class="t" style="left:92.70px;top:521.15px;font-size:14px;letter-spacing:0.897px;transform:scaleX(0.9300);">vary</div>
<div class="t" style="left:125.30px;top:521.15px;font-size:14px;letter-spacing:0.805px;transform:scaleX(0.9300);">by</div>
<div class="t" style="left:146.50px;top:521.15px;font-size:14px;letter-spacing:0.643px;transform:scaleX(0.9300);">&lt;1%</div>
<div class="t" style="left:179.70px;top:521.15px;font-size:14px;letter-spacing:1.238px;transform:scaleX(0.9500);">from</div>
<div class="t" style="left:212.30px;top:521.15px;font-size:14px;letter-spacing:1.215px;transform:scaleX(0.9700);">summed</div>
<div class="t" style="left:275.70px;top:521.15px;font-size:14px;letter-spacing:1.108px;transform:scaleX(0.9300);">components</div>
<div class="t" style="left:361.80px;top:521.15px;font-size:14px;letter-spacing:0.408px;transform:scaleX(0.9300);">because</div>
<div class="t" style="left:420.00px;top:521.15px;font-size:14px;letter-spacing:1.126px;transform:scaleX(1.0300);">of</div>
<div class="t" style="left:435.90px;top:521.15px;font-size:14px;letter-spacing:1.161px;transform:scaleX(0.9300);">rounding.</div>
</div></body></html>
